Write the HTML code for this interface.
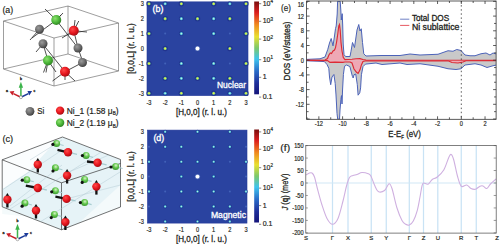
<!DOCTYPE html>
<html><head><meta charset="utf-8"><style>
html,body{margin:0;padding:0;background:#fff;width:500px;height:244px;overflow:hidden;}
svg{display:block;font-family:"Liberation Sans",sans-serif;}
</style></head><body><svg width="500" height="244" viewBox="0 0 500 244" font-family="Liberation Sans, sans-serif"><defs>
<radialGradient id="gR" cx="0.38" cy="0.35" r="0.7"><stop offset="0" stop-color="#ff4a4a"/><stop offset="0.55" stop-color="#e6161e"/><stop offset="1" stop-color="#a00c12"/></radialGradient>
<radialGradient id="gG" cx="0.38" cy="0.35" r="0.7"><stop offset="0" stop-color="#8fe070"/><stop offset="0.55" stop-color="#4db83a"/><stop offset="1" stop-color="#2d7d22"/></radialGradient>
<radialGradient id="gS" cx="0.38" cy="0.35" r="0.7"><stop offset="0" stop-color="#9a9a9a"/><stop offset="0.55" stop-color="#6c6c6c"/><stop offset="1" stop-color="#3a3a3a"/></radialGradient>
<linearGradient id="jet" x1="0" y1="1" x2="0" y2="0">
<stop offset="0" stop-color="#15157a"/><stop offset="0.12" stop-color="#1f2f9a"/><stop offset="0.25" stop-color="#2a6cc8"/><stop offset="0.38" stop-color="#3ec4ee"/><stop offset="0.5" stop-color="#7dc86a"/><stop offset="0.62" stop-color="#e8e030"/><stop offset="0.75" stop-color="#f08a1e"/><stop offset="0.88" stop-color="#dc1e1e"/><stop offset="1" stop-color="#7a0e0e"/>
</linearGradient>
<radialGradient id="gG2" cx="0.55" cy="0.35" r="0.75"><stop offset="0" stop-color="#d8f5c8"/><stop offset="0.45" stop-color="#62c64c"/><stop offset="1" stop-color="#338a2a"/></radialGradient>
</defs>
<text x="2.4" y="12.7" font-size="9" text-anchor="start" fill="#231f20"  textLength="10.8" lengthAdjust="spacingAndGlyphs" stroke="#231f20" stroke-width="0.18">(a)</text>
<line x1="3.5" y1="21" x2="54" y2="38" stroke="#5c5c5c" stroke-width="0.6" />
<line x1="54" y1="38" x2="54" y2="86" stroke="#5c5c5c" stroke-width="0.6" />
<line x1="54" y1="86" x2="3.5" y2="69" stroke="#5c5c5c" stroke-width="0.6" />
<line x1="3.5" y1="69" x2="3.5" y2="21" stroke="#5c5c5c" stroke-width="0.6" />
<line x1="68.0" y1="6" x2="118.5" y2="23" stroke="#5c5c5c" stroke-width="0.6" />
<line x1="118.5" y1="23" x2="118.5" y2="71" stroke="#5c5c5c" stroke-width="0.6" />
<line x1="118.5" y1="71" x2="68.0" y2="54" stroke="#5c5c5c" stroke-width="0.6" />
<line x1="68.0" y1="54" x2="68.0" y2="6" stroke="#5c5c5c" stroke-width="0.6" />
<line x1="3.5" y1="21" x2="68.0" y2="6" stroke="#5c5c5c" stroke-width="0.6" />
<line x1="54" y1="38" x2="118.5" y2="23" stroke="#5c5c5c" stroke-width="0.6" />
<line x1="54" y1="86" x2="118.5" y2="71" stroke="#5c5c5c" stroke-width="0.6" />
<line x1="3.5" y1="69" x2="68.0" y2="54" stroke="#5c5c5c" stroke-width="0.6" />
<line x1="45" y1="9" x2="56.25" y2="20" stroke="#222" stroke-width="0.8" />
<line x1="56.25" y1="20" x2="78" y2="48" stroke="#222" stroke-width="0.8" />
<line x1="32" y1="38" x2="56.25" y2="20" stroke="#222" stroke-width="0.8" />
<line x1="56.25" y1="20" x2="63" y2="13" stroke="#222" stroke-width="0.8" />
<line x1="56.25" y1="20" x2="61" y2="15" stroke="#222" stroke-width="0.8" />
<line x1="43" y1="43.75" x2="48" y2="60.5" stroke="#222" stroke-width="0.8" />
<line x1="48" y1="60.5" x2="56" y2="72" stroke="#222" stroke-width="0.8" />
<line x1="48" y1="60.5" x2="43.5" y2="72.5" stroke="#222" stroke-width="0.8" />
<line x1="48" y1="60.5" x2="46" y2="72.5" stroke="#222" stroke-width="0.8" />
<line x1="42.5" y1="43.75" x2="65" y2="71.75" stroke="#222" stroke-width="0.8" />
<line x1="65" y1="71.75" x2="52.5" y2="81" stroke="#222" stroke-width="0.8" />
<line x1="65" y1="71.75" x2="75" y2="81" stroke="#222" stroke-width="0.8" />
<line x1="65" y1="71.75" x2="65" y2="80" stroke="#222" stroke-width="0.8" />
<line x1="65" y1="71.75" x2="82.5" y2="62.5" stroke="#222" stroke-width="0.8" />
<line x1="73.75" y1="30.75" x2="75" y2="20" stroke="#222" stroke-width="0.8" />
<line x1="73.75" y1="30.75" x2="78.75" y2="21" stroke="#222" stroke-width="0.8" />
<line x1="73.75" y1="30.75" x2="87" y2="32" stroke="#222" stroke-width="0.8" />
<line x1="73.75" y1="30.75" x2="78" y2="48" stroke="#222" stroke-width="0.8" />
<line x1="78" y1="48" x2="83" y2="62.5" stroke="#222" stroke-width="0.8" />
<line x1="39.5" y1="29.25" x2="30" y2="40" stroke="#222" stroke-width="0.8" />
<line x1="43" y1="43.75" x2="36" y2="52" stroke="#222" stroke-width="0.8" />
<line x1="73.75" y1="30.75" x2="62" y2="38" stroke="#222" stroke-width="0.8" />
<circle cx="56.25" cy="20" r="5" fill="url(#gG)"/>
<circle cx="39.5" cy="29.25" r="4.5" fill="url(#gS)"/>
<circle cx="43" cy="43.75" r="4.5" fill="url(#gS)"/>
<circle cx="48" cy="60.5" r="5" fill="url(#gG)"/>
<circle cx="73.75" cy="30.75" r="5" fill="url(#gR)"/>
<circle cx="78" cy="48" r="4.5" fill="url(#gS)"/>
<circle cx="82.5" cy="62.5" r="4.5" fill="url(#gS)"/>
<circle cx="65" cy="71.75" r="5" fill="url(#gR)"/>
<line x1="20.9" y1="97.2" x2="20.9" y2="86.7" stroke="#3cb44b" stroke-width="1.5"/>
<polygon points="18.7,87.7 23.099999999999998,87.7 20.9,81.7" fill="#3cb44b"/>
<line x1="20.9" y1="97.2" x2="13.399999999999999" y2="93.60000000000001" stroke="#c81e28" stroke-width="1.5"/>
<polygon points="14.299999999999999,90.9 12.499999999999998,95.5 9.499999999999998,91.5" fill="#c81e28"/>
<line x1="20.9" y1="97.2" x2="28.4" y2="93.60000000000001" stroke="#1c3a98" stroke-width="1.5"/>
<polygon points="27.5,90.9 29.299999999999997,95.5 32.099999999999994,91.0" fill="#1c3a98"/>
<circle cx="20.9" cy="97.2" r="1.5" fill="#fff" stroke="#666" stroke-width="0.5"/>
<text x="20.0" y="79.9" font-size="3.6" text-anchor="start" fill="#231f20"  stroke="#231f20" stroke-width="0.3">b</text>
<text x="5.899999999999999" y="92.0" font-size="3.6" text-anchor="start" fill="#231f20"  stroke="#231f20" stroke-width="0.3">a</text>
<text x="33.5" y="92.4" font-size="3.6" text-anchor="start" fill="#231f20"  stroke="#231f20" stroke-width="0.3">c</text>
<circle cx="30" cy="111.3" r="4.4" fill="url(#gS)"/>
<text x="37.2" y="114.3" font-size="9" text-anchor="start" fill="#231f20"  textLength="7" lengthAdjust="spacingAndGlyphs" stroke="#231f20" stroke-width="0.2">Si</text>
<circle cx="60.1" cy="110.6" r="4.2" fill="url(#gR)"/>
<text x="66.8" y="113.9" font-size="9" text-anchor="start" fill="#231f20"  textLength="51.8" lengthAdjust="spacingAndGlyphs" stroke="#231f20" stroke-width="0.2">Ni_1 (1.58 μ<tspan font-size="5" dy="1.5">B</tspan><tspan dy="-1.5">)</tspan></text>
<circle cx="60.1" cy="122.8" r="4.2" fill="url(#gG)"/>
<text x="66.8" y="126.1" font-size="9" text-anchor="start" fill="#231f20"  textLength="51.8" lengthAdjust="spacingAndGlyphs" stroke="#231f20" stroke-width="0.2">Ni_2 (1.19 μ<tspan font-size="5" dy="1.5">B</tspan><tspan dy="-1.5">)</tspan></text>
<text x="2.4" y="142" font-size="9.3" text-anchor="start" fill="#231f20"  textLength="10.8" lengthAdjust="spacingAndGlyphs" stroke="#231f20" stroke-width="0.18">(c)</text>
<polygon points="2.20,159.80 62.50,137.00 120.50,159.50 120.50,207.00 61.50,229.80 2.20,206.80" fill="#e6f3f7"/>
<polygon points="2.20,159.80 62.50,137.00 56.00,141.00 28.00,172.00 2.20,189.00" fill="#fbfdfe"/>
<polygon points="120.50,185.00 120.50,207.00 80.00,222.00" fill="#f4fafb"/>
<polygon points="2.20,206.80 30.00,217.00 2.20,214.00" fill="#f4fafb"/>
<line x1="2.2" y1="159.8" x2="61.5" y2="182.8" stroke="#383838" stroke-width="0.7" />
<line x1="61.5" y1="182.8" x2="61.5" y2="229.8" stroke="#383838" stroke-width="0.7" />
<line x1="61.5" y1="229.8" x2="2.2" y2="206.8" stroke="#383838" stroke-width="0.7" />
<line x1="2.2" y1="206.8" x2="2.2" y2="159.8" stroke="#383838" stroke-width="0.7" />
<line x1="2.2" y1="159.8" x2="62.5" y2="137" stroke="#383838" stroke-width="0.7" />
<line x1="62.5" y1="137" x2="120.5" y2="159.5" stroke="#383838" stroke-width="0.7" />
<line x1="120.5" y1="159.5" x2="120.5" y2="207" stroke="#383838" stroke-width="0.7" />
<line x1="120.5" y1="207" x2="61.5" y2="229.8" stroke="#383838" stroke-width="0.7" />
<line x1="61.5" y1="182.8" x2="120.5" y2="163.5" stroke="#383838" stroke-width="0.7" />
<clipPath id="cclip"><polygon points="2.20,159.80 62.50,137.00 120.50,159.50 120.50,207.00 61.50,229.80 2.20,206.80"/></clipPath><g clip-path="url(#cclip)">
<line x1="2.2" y1="190" x2="62" y2="150" stroke="#a9c3cc" stroke-width="0.4" />
<line x1="2.2" y1="214" x2="120.5" y2="140" stroke="#a9c3cc" stroke-width="0.4" />
<line x1="10" y1="206" x2="62" y2="165" stroke="#a9c3cc" stroke-width="0.4" />
<line x1="40" y1="222" x2="120" y2="172" stroke="#a9c3cc" stroke-width="0.4" />
<line x1="62" y1="200" x2="120.5" y2="185" stroke="#a9c3cc" stroke-width="0.4" />
<line x1="30" y1="160" x2="62" y2="140" stroke="#a9c3cc" stroke-width="0.4" />
<line x1="62" y1="175" x2="120.5" y2="150" stroke="#a9c3cc" stroke-width="0.4" />
</g>
<line x1="59.1" y1="144.3" x2="63.6" y2="145.5" stroke="#a8ccd0" stroke-width="1.1" />
<circle cx="56.6" cy="143.5" r="3.5" fill="url(#gG2)"/>
<circle cx="52.9" cy="144.4" r="1.6" fill="#111"/>
<line x1="88.6" y1="156.20000000000002" x2="93.1" y2="157.4" stroke="#a8ccd0" stroke-width="1.1" />
<circle cx="86.1" cy="155.4" r="3.5" fill="url(#gG2)"/>
<circle cx="82.4" cy="155.6" r="1.6" fill="#111"/>
<line x1="118.1" y1="167.3" x2="122.6" y2="168.5" stroke="#a8ccd0" stroke-width="1.1" />
<circle cx="115.6" cy="166.5" r="3.5" fill="url(#gG2)"/>
<circle cx="111" cy="167" r="1.6" fill="#111"/>
<line x1="57.9" y1="168.60000000000002" x2="62.4" y2="169.8" stroke="#a8ccd0" stroke-width="1.1" />
<circle cx="55.4" cy="167.8" r="3.5" fill="url(#gG2)"/>
<circle cx="53" cy="171" r="1.6" fill="#111"/>
<line x1="29.3" y1="180.60000000000002" x2="33.8" y2="181.8" stroke="#a8ccd0" stroke-width="1.1" />
<circle cx="26.8" cy="179.8" r="3.5" fill="url(#gG2)"/>
<circle cx="22.3" cy="180.2" r="1.6" fill="#111"/>
<line x1="87.1" y1="180.20000000000002" x2="91.6" y2="181.4" stroke="#a8ccd0" stroke-width="1.1" />
<circle cx="84.6" cy="179.4" r="3.5" fill="url(#gG2)"/>
<circle cx="82.2" cy="182.4" r="1.6" fill="#111"/>
<line x1="57.9" y1="191.60000000000002" x2="62.4" y2="192.8" stroke="#a8ccd0" stroke-width="1.1" />
<circle cx="55.4" cy="190.8" r="3.5" fill="url(#gG2)"/>
<circle cx="51.7" cy="191.8" r="1.6" fill="#111"/>
<line x1="27.4" y1="203.8" x2="31.9" y2="205" stroke="#a8ccd0" stroke-width="1.1" />
<circle cx="24.9" cy="203" r="3.5" fill="url(#gG2)"/>
<circle cx="22.1" cy="206.2" r="1.6" fill="#111"/>
<line x1="56.9" y1="215.20000000000002" x2="61.4" y2="216.4" stroke="#a8ccd0" stroke-width="1.1" />
<circle cx="54.4" cy="214.4" r="3.5" fill="url(#gG2)"/>
<circle cx="51.25" cy="217.6" r="1.6" fill="#111"/>
<line x1="87.1" y1="203.4" x2="91.6" y2="204.6" stroke="#a8ccd0" stroke-width="1.1" />
<circle cx="84.6" cy="202.6" r="3.5" fill="url(#gG2)"/>
<circle cx="80.4" cy="202.6" r="1.6" fill="#111"/>
<line x1="71" y1="152.9" x2="77" y2="154.3" stroke="#a8ccd0" stroke-width="1.3" />
<line x1="57.5" y1="149.9" x2="68" y2="152.3" stroke="#111" stroke-width="2.3" />
<circle cx="68" cy="152.3" r="4.2" fill="url(#gR)"/>
<line x1="100.6" y1="163.4" x2="106.6" y2="164.8" stroke="#a8ccd0" stroke-width="1.3" />
<line x1="87" y1="161.5" x2="97.6" y2="162.8" stroke="#111" stroke-width="2.3" />
<circle cx="97.6" cy="162.8" r="4.2" fill="url(#gR)"/>
<line x1="40.8" y1="188.6" x2="46.8" y2="190" stroke="#a8ccd0" stroke-width="1.3" />
<line x1="25.8" y1="185.7" x2="37.8" y2="188" stroke="#111" stroke-width="2.3" />
<circle cx="37.8" cy="188" r="4.2" fill="url(#gR)"/>
<line x1="69.6" y1="199.5" x2="75.6" y2="200.9" stroke="#a8ccd0" stroke-width="1.3" />
<line x1="55.4" y1="196.7" x2="66.6" y2="198.9" stroke="#111" stroke-width="2.3" />
<circle cx="66.6" cy="198.9" r="4.2" fill="url(#gR)"/>
<line x1="7.4" y1="199.5" x2="7.4" y2="207.5" stroke="#111" stroke-width="2.3" />
<circle cx="7.4" cy="199.5" r="4.2" fill="url(#gR)"/>
<polygon points="5.7,195.7 9.1,195.7 7.4,192.9" fill="#111"/>
<line x1="37.8" y1="164.5" x2="37.8" y2="172.5" stroke="#111" stroke-width="2.3" />
<circle cx="37.8" cy="164.5" r="4.2" fill="url(#gR)"/>
<polygon points="36.099999999999994,160.7 39.5,160.7 37.8,157.9" fill="#111"/>
<line x1="67.1" y1="175.5" x2="67.1" y2="183.5" stroke="#111" stroke-width="2.3" />
<circle cx="67.1" cy="175.5" r="4.2" fill="url(#gR)"/>
<polygon points="65.39999999999999,171.7 68.8,171.7 67.1,168.9" fill="#111"/>
<line x1="96.4" y1="186.6" x2="96.4" y2="194.6" stroke="#111" stroke-width="2.3" />
<circle cx="96.4" cy="186.6" r="4.2" fill="url(#gR)"/>
<polygon points="94.7,182.79999999999998 98.10000000000001,182.79999999999998 96.4,180.0" fill="#111"/>
<line x1="36" y1="210.5" x2="36" y2="218.5" stroke="#111" stroke-width="2.3" />
<circle cx="36" cy="210.5" r="4.2" fill="url(#gR)"/>
<polygon points="34.3,206.7 37.7,206.7 36,203.9" fill="#111"/>
<line x1="65.4" y1="222" x2="65.4" y2="230" stroke="#111" stroke-width="2.3" />
<circle cx="65.4" cy="222" r="4.2" fill="url(#gR)"/>
<polygon points="63.7,218.2 67.10000000000001,218.2 65.4,215.4" fill="#111"/>
<line x1="17.5" y1="239.25" x2="17.5" y2="228.75" stroke="#3cb44b" stroke-width="1.5"/>
<polygon points="15.3,229.75 19.7,229.75 17.5,223.75" fill="#3cb44b"/>
<line x1="17.5" y1="239.25" x2="10.0" y2="235.65" stroke="#c81e28" stroke-width="1.5"/>
<polygon points="10.9,232.95 9.1,237.55 6.1,233.55" fill="#c81e28"/>
<line x1="17.5" y1="239.25" x2="25.0" y2="235.65" stroke="#1c3a98" stroke-width="1.5"/>
<polygon points="24.1,232.95 25.9,237.55 28.7,233.05" fill="#1c3a98"/>
<circle cx="17.5" cy="239.25" r="1.5" fill="#fff" stroke="#666" stroke-width="0.5"/>
<text x="16.6" y="221.95" font-size="3.6" text-anchor="start" fill="#231f20"  stroke="#231f20" stroke-width="0.3">b</text>
<text x="2.5" y="234.05" font-size="3.6" text-anchor="start" fill="#231f20"  stroke="#231f20" stroke-width="0.3">a</text>
<text x="30.1" y="234.45" font-size="3.6" text-anchor="start" fill="#231f20"  stroke="#231f20" stroke-width="0.3">c</text>
<rect x="147" y="1.85" width="101" height="93.75" fill="#2a43a0" stroke="#24399a" stroke-width="0.6"/>
<circle cx="149.00" cy="3.75" r="2.7" fill="#1f2e88" opacity="0.75"/>
<circle cx="149.00" cy="3.75" r="1.55" fill="#6acb8a"/>
<circle cx="149.00" cy="3.75" r="0.95" fill="#eef03e"/>
<circle cx="165.17" cy="3.75" r="2.40" fill="#1f2e88" opacity="0.7"/>
<circle cx="165.17" cy="3.75" r="1.55" fill="#3fb4d6"/>
<circle cx="165.17" cy="3.75" r="0.85" fill="#b8f2dc"/>
<circle cx="181.34" cy="3.75" r="2.7" fill="#1f2e88" opacity="0.75"/>
<circle cx="181.34" cy="3.75" r="1.55" fill="#6acb8a"/>
<circle cx="181.34" cy="3.75" r="0.95" fill="#eef03e"/>
<circle cx="213.68" cy="3.75" r="2.7" fill="#1f2e88" opacity="0.75"/>
<circle cx="213.68" cy="3.75" r="1.55" fill="#6acb8a"/>
<circle cx="213.68" cy="3.75" r="0.95" fill="#eef03e"/>
<circle cx="229.85" cy="3.75" r="2.40" fill="#1f2e88" opacity="0.7"/>
<circle cx="229.85" cy="3.75" r="1.55" fill="#3fb4d6"/>
<circle cx="229.85" cy="3.75" r="0.85" fill="#b8f2dc"/>
<circle cx="246.02" cy="3.75" r="2.7" fill="#1f2e88" opacity="0.75"/>
<circle cx="246.02" cy="3.75" r="1.55" fill="#6acb8a"/>
<circle cx="246.02" cy="3.75" r="0.95" fill="#eef03e"/>
<circle cx="165.17" cy="18.67" r="2.7" fill="#1f2e88" opacity="0.75"/>
<circle cx="165.17" cy="18.67" r="1.55" fill="#6acb8a"/>
<circle cx="165.17" cy="18.67" r="0.95" fill="#eef03e"/>
<circle cx="181.34" cy="18.67" r="2.40" fill="#1f2e88" opacity="0.7"/>
<circle cx="181.34" cy="18.67" r="1.55" fill="#3fb4d6"/>
<circle cx="181.34" cy="18.67" r="0.85" fill="#b8f2dc"/>
<circle cx="197.51" cy="18.67" r="2.7" fill="#1f2e88" opacity="0.75"/>
<circle cx="197.51" cy="18.67" r="1.55" fill="#6acb8a"/>
<circle cx="197.51" cy="18.67" r="0.95" fill="#eef03e"/>
<circle cx="213.68" cy="18.67" r="2.40" fill="#1f2e88" opacity="0.7"/>
<circle cx="213.68" cy="18.67" r="1.55" fill="#3fb4d6"/>
<circle cx="213.68" cy="18.67" r="0.85" fill="#b8f2dc"/>
<circle cx="229.85" cy="18.67" r="2.7" fill="#1f2e88" opacity="0.75"/>
<circle cx="229.85" cy="18.67" r="1.55" fill="#6acb8a"/>
<circle cx="229.85" cy="18.67" r="0.95" fill="#eef03e"/>
<circle cx="149.00" cy="33.59" r="2.7" fill="#1f2e88" opacity="0.75"/>
<circle cx="149.00" cy="33.59" r="1.55" fill="#6acb8a"/>
<circle cx="149.00" cy="33.59" r="0.95" fill="#eef03e"/>
<circle cx="165.17" cy="33.59" r="1.0" fill="#4262b8"/>
<circle cx="181.34" cy="33.59" r="2.40" fill="#1f2e88" opacity="0.7"/>
<circle cx="181.34" cy="33.59" r="1.55" fill="#3fb4d6"/>
<circle cx="181.34" cy="33.59" r="0.85" fill="#b8f2dc"/>
<circle cx="213.68" cy="33.59" r="2.40" fill="#1f2e88" opacity="0.7"/>
<circle cx="213.68" cy="33.59" r="1.55" fill="#3fb4d6"/>
<circle cx="213.68" cy="33.59" r="0.85" fill="#b8f2dc"/>
<circle cx="229.85" cy="33.59" r="1.0" fill="#4262b8"/>
<circle cx="246.02" cy="33.59" r="2.7" fill="#1f2e88" opacity="0.75"/>
<circle cx="246.02" cy="33.59" r="1.55" fill="#6acb8a"/>
<circle cx="246.02" cy="33.59" r="0.95" fill="#eef03e"/>
<circle cx="165.17" cy="48.51" r="2.7" fill="#1f2e88" opacity="0.75"/>
<circle cx="165.17" cy="48.51" r="1.55" fill="#6acb8a"/>
<circle cx="165.17" cy="48.51" r="0.95" fill="#eef03e"/>
<circle cx="197.51" cy="48.51" r="2.6" fill="#7f9ad0" opacity="0.6"/>
<circle cx="197.51" cy="48.51" r="1.9" fill="#ffffff"/>
<circle cx="229.85" cy="48.51" r="2.7" fill="#1f2e88" opacity="0.75"/>
<circle cx="229.85" cy="48.51" r="1.55" fill="#6acb8a"/>
<circle cx="229.85" cy="48.51" r="0.95" fill="#eef03e"/>
<circle cx="149.00" cy="63.43" r="2.7" fill="#1f2e88" opacity="0.75"/>
<circle cx="149.00" cy="63.43" r="1.55" fill="#6acb8a"/>
<circle cx="149.00" cy="63.43" r="0.95" fill="#eef03e"/>
<circle cx="165.17" cy="63.43" r="1.0" fill="#4262b8"/>
<circle cx="181.34" cy="63.43" r="2.40" fill="#1f2e88" opacity="0.7"/>
<circle cx="181.34" cy="63.43" r="1.55" fill="#3fb4d6"/>
<circle cx="181.34" cy="63.43" r="0.85" fill="#b8f2dc"/>
<circle cx="213.68" cy="63.43" r="2.40" fill="#1f2e88" opacity="0.7"/>
<circle cx="213.68" cy="63.43" r="1.55" fill="#3fb4d6"/>
<circle cx="213.68" cy="63.43" r="0.85" fill="#b8f2dc"/>
<circle cx="229.85" cy="63.43" r="1.0" fill="#4262b8"/>
<circle cx="246.02" cy="63.43" r="2.7" fill="#1f2e88" opacity="0.75"/>
<circle cx="246.02" cy="63.43" r="1.55" fill="#6acb8a"/>
<circle cx="246.02" cy="63.43" r="0.95" fill="#eef03e"/>
<circle cx="165.17" cy="78.35" r="2.7" fill="#1f2e88" opacity="0.75"/>
<circle cx="165.17" cy="78.35" r="1.55" fill="#6acb8a"/>
<circle cx="165.17" cy="78.35" r="0.95" fill="#eef03e"/>
<circle cx="181.34" cy="78.35" r="2.40" fill="#1f2e88" opacity="0.7"/>
<circle cx="181.34" cy="78.35" r="1.55" fill="#3fb4d6"/>
<circle cx="181.34" cy="78.35" r="0.85" fill="#b8f2dc"/>
<circle cx="197.51" cy="78.35" r="2.7" fill="#1f2e88" opacity="0.75"/>
<circle cx="197.51" cy="78.35" r="1.55" fill="#6acb8a"/>
<circle cx="197.51" cy="78.35" r="0.95" fill="#eef03e"/>
<circle cx="213.68" cy="78.35" r="2.40" fill="#1f2e88" opacity="0.7"/>
<circle cx="213.68" cy="78.35" r="1.55" fill="#3fb4d6"/>
<circle cx="213.68" cy="78.35" r="0.85" fill="#b8f2dc"/>
<circle cx="229.85" cy="78.35" r="2.7" fill="#1f2e88" opacity="0.75"/>
<circle cx="229.85" cy="78.35" r="1.55" fill="#6acb8a"/>
<circle cx="229.85" cy="78.35" r="0.95" fill="#eef03e"/>
<circle cx="149.00" cy="93.27" r="2.7" fill="#1f2e88" opacity="0.75"/>
<circle cx="149.00" cy="93.27" r="1.55" fill="#6acb8a"/>
<circle cx="149.00" cy="93.27" r="0.95" fill="#eef03e"/>
<circle cx="165.17" cy="93.27" r="2.40" fill="#1f2e88" opacity="0.7"/>
<circle cx="165.17" cy="93.27" r="1.55" fill="#3fb4d6"/>
<circle cx="165.17" cy="93.27" r="0.85" fill="#b8f2dc"/>
<circle cx="181.34" cy="93.27" r="2.7" fill="#1f2e88" opacity="0.75"/>
<circle cx="181.34" cy="93.27" r="1.55" fill="#6acb8a"/>
<circle cx="181.34" cy="93.27" r="0.95" fill="#eef03e"/>
<circle cx="213.68" cy="93.27" r="2.7" fill="#1f2e88" opacity="0.75"/>
<circle cx="213.68" cy="93.27" r="1.55" fill="#6acb8a"/>
<circle cx="213.68" cy="93.27" r="0.95" fill="#eef03e"/>
<circle cx="229.85" cy="93.27" r="2.40" fill="#1f2e88" opacity="0.7"/>
<circle cx="229.85" cy="93.27" r="1.55" fill="#3fb4d6"/>
<circle cx="229.85" cy="93.27" r="0.85" fill="#b8f2dc"/>
<circle cx="246.02" cy="93.27" r="2.7" fill="#1f2e88" opacity="0.75"/>
<circle cx="246.02" cy="93.27" r="1.55" fill="#6acb8a"/>
<circle cx="246.02" cy="93.27" r="0.95" fill="#eef03e"/>
<text x="152.6" y="11.6" font-size="8.9" text-anchor="start" fill="#fff"  stroke="#fff" stroke-width="0.35">(b)</text>
<text x="217" y="88.3" font-size="8.6" text-anchor="start" fill="#fff"  textLength="29.1" lengthAdjust="spacingAndGlyphs" stroke="#fff" stroke-width="0.3">Nuclear</text>
<rect x="147.5" y="130.1" width="99.5" height="93" fill="#2a43a0" stroke="#24399a" stroke-width="0.6"/>
<circle cx="165.17" cy="131.75" r="1.92" fill="#1f2e88" opacity="0.7"/>
<circle cx="165.17" cy="131.75" r="1.24" fill="#3fb4d6"/>
<circle cx="165.17" cy="131.75" r="0.68" fill="#b8f2dc"/>
<circle cx="197.51" cy="131.75" r="1.92" fill="#1f2e88" opacity="0.7"/>
<circle cx="197.51" cy="131.75" r="1.24" fill="#3fb4d6"/>
<circle cx="197.51" cy="131.75" r="0.68" fill="#b8f2dc"/>
<circle cx="229.85" cy="131.75" r="1.92" fill="#1f2e88" opacity="0.7"/>
<circle cx="229.85" cy="131.75" r="1.24" fill="#3fb4d6"/>
<circle cx="229.85" cy="131.75" r="0.68" fill="#b8f2dc"/>
<circle cx="149.00" cy="146.70" r="1.0" fill="#4262b8"/>
<circle cx="165.17" cy="146.70" r="1.92" fill="#1f2e88" opacity="0.7"/>
<circle cx="165.17" cy="146.70" r="1.24" fill="#3fb4d6"/>
<circle cx="165.17" cy="146.70" r="0.68" fill="#b8f2dc"/>
<circle cx="181.34" cy="146.70" r="1.92" fill="#1f2e88" opacity="0.7"/>
<circle cx="181.34" cy="146.70" r="1.24" fill="#3fb4d6"/>
<circle cx="181.34" cy="146.70" r="0.68" fill="#b8f2dc"/>
<circle cx="213.68" cy="146.70" r="1.92" fill="#1f2e88" opacity="0.7"/>
<circle cx="213.68" cy="146.70" r="1.24" fill="#3fb4d6"/>
<circle cx="213.68" cy="146.70" r="0.68" fill="#b8f2dc"/>
<circle cx="229.85" cy="146.70" r="1.92" fill="#1f2e88" opacity="0.7"/>
<circle cx="229.85" cy="146.70" r="1.24" fill="#3fb4d6"/>
<circle cx="229.85" cy="146.70" r="0.68" fill="#b8f2dc"/>
<circle cx="246.02" cy="146.70" r="1.0" fill="#4262b8"/>
<circle cx="149.00" cy="161.65" r="1.92" fill="#1f2e88" opacity="0.7"/>
<circle cx="149.00" cy="161.65" r="1.24" fill="#3fb4d6"/>
<circle cx="149.00" cy="161.65" r="0.68" fill="#b8f2dc"/>
<circle cx="165.17" cy="161.65" r="1.0" fill="#4262b8"/>
<circle cx="181.34" cy="161.65" r="1.92" fill="#1f2e88" opacity="0.7"/>
<circle cx="181.34" cy="161.65" r="1.24" fill="#3fb4d6"/>
<circle cx="181.34" cy="161.65" r="0.68" fill="#b8f2dc"/>
<circle cx="197.51" cy="161.65" r="1.92" fill="#1f2e88" opacity="0.7"/>
<circle cx="197.51" cy="161.65" r="1.24" fill="#3fb4d6"/>
<circle cx="197.51" cy="161.65" r="0.68" fill="#b8f2dc"/>
<circle cx="213.68" cy="161.65" r="1.92" fill="#1f2e88" opacity="0.7"/>
<circle cx="213.68" cy="161.65" r="1.24" fill="#3fb4d6"/>
<circle cx="213.68" cy="161.65" r="0.68" fill="#b8f2dc"/>
<circle cx="229.85" cy="161.65" r="1.0" fill="#4262b8"/>
<circle cx="246.02" cy="161.65" r="1.92" fill="#1f2e88" opacity="0.7"/>
<circle cx="246.02" cy="161.65" r="1.24" fill="#3fb4d6"/>
<circle cx="246.02" cy="161.65" r="0.68" fill="#b8f2dc"/>
<circle cx="149.00" cy="176.60" r="1.0" fill="#4262b8"/>
<circle cx="181.34" cy="176.60" r="1.92" fill="#1f2e88" opacity="0.7"/>
<circle cx="181.34" cy="176.60" r="1.24" fill="#3fb4d6"/>
<circle cx="181.34" cy="176.60" r="0.68" fill="#b8f2dc"/>
<circle cx="197.51" cy="176.60" r="2.6" fill="#7f9ad0" opacity="0.6"/>
<circle cx="197.51" cy="176.60" r="1.9" fill="#ffffff"/>
<circle cx="213.68" cy="176.60" r="1.92" fill="#1f2e88" opacity="0.7"/>
<circle cx="213.68" cy="176.60" r="1.24" fill="#3fb4d6"/>
<circle cx="213.68" cy="176.60" r="0.68" fill="#b8f2dc"/>
<circle cx="246.02" cy="176.60" r="1.0" fill="#4262b8"/>
<circle cx="149.00" cy="191.55" r="1.92" fill="#1f2e88" opacity="0.7"/>
<circle cx="149.00" cy="191.55" r="1.24" fill="#3fb4d6"/>
<circle cx="149.00" cy="191.55" r="0.68" fill="#b8f2dc"/>
<circle cx="165.17" cy="191.55" r="1.0" fill="#4262b8"/>
<circle cx="181.34" cy="191.55" r="1.92" fill="#1f2e88" opacity="0.7"/>
<circle cx="181.34" cy="191.55" r="1.24" fill="#3fb4d6"/>
<circle cx="181.34" cy="191.55" r="0.68" fill="#b8f2dc"/>
<circle cx="197.51" cy="191.55" r="1.92" fill="#1f2e88" opacity="0.7"/>
<circle cx="197.51" cy="191.55" r="1.24" fill="#3fb4d6"/>
<circle cx="197.51" cy="191.55" r="0.68" fill="#b8f2dc"/>
<circle cx="213.68" cy="191.55" r="1.92" fill="#1f2e88" opacity="0.7"/>
<circle cx="213.68" cy="191.55" r="1.24" fill="#3fb4d6"/>
<circle cx="213.68" cy="191.55" r="0.68" fill="#b8f2dc"/>
<circle cx="229.85" cy="191.55" r="1.0" fill="#4262b8"/>
<circle cx="246.02" cy="191.55" r="1.92" fill="#1f2e88" opacity="0.7"/>
<circle cx="246.02" cy="191.55" r="1.24" fill="#3fb4d6"/>
<circle cx="246.02" cy="191.55" r="0.68" fill="#b8f2dc"/>
<circle cx="149.00" cy="206.50" r="1.0" fill="#4262b8"/>
<circle cx="165.17" cy="206.50" r="1.92" fill="#1f2e88" opacity="0.7"/>
<circle cx="165.17" cy="206.50" r="1.24" fill="#3fb4d6"/>
<circle cx="165.17" cy="206.50" r="0.68" fill="#b8f2dc"/>
<circle cx="181.34" cy="206.50" r="1.92" fill="#1f2e88" opacity="0.7"/>
<circle cx="181.34" cy="206.50" r="1.24" fill="#3fb4d6"/>
<circle cx="181.34" cy="206.50" r="0.68" fill="#b8f2dc"/>
<circle cx="213.68" cy="206.50" r="1.92" fill="#1f2e88" opacity="0.7"/>
<circle cx="213.68" cy="206.50" r="1.24" fill="#3fb4d6"/>
<circle cx="213.68" cy="206.50" r="0.68" fill="#b8f2dc"/>
<circle cx="229.85" cy="206.50" r="1.92" fill="#1f2e88" opacity="0.7"/>
<circle cx="229.85" cy="206.50" r="1.24" fill="#3fb4d6"/>
<circle cx="229.85" cy="206.50" r="0.68" fill="#b8f2dc"/>
<circle cx="246.02" cy="206.50" r="1.0" fill="#4262b8"/>
<circle cx="165.17" cy="221.45" r="1.92" fill="#1f2e88" opacity="0.7"/>
<circle cx="165.17" cy="221.45" r="1.24" fill="#3fb4d6"/>
<circle cx="165.17" cy="221.45" r="0.68" fill="#b8f2dc"/>
<circle cx="197.51" cy="221.45" r="1.92" fill="#1f2e88" opacity="0.7"/>
<circle cx="197.51" cy="221.45" r="1.24" fill="#3fb4d6"/>
<circle cx="197.51" cy="221.45" r="0.68" fill="#b8f2dc"/>
<circle cx="229.85" cy="221.45" r="1.92" fill="#1f2e88" opacity="0.7"/>
<circle cx="229.85" cy="221.45" r="1.24" fill="#3fb4d6"/>
<circle cx="229.85" cy="221.45" r="0.68" fill="#b8f2dc"/>
<text x="153.4" y="140.6" font-size="8.9" text-anchor="start" fill="#fff"  stroke="#fff" stroke-width="0.35">(d)</text>
<text x="210.9" y="217.6" font-size="8.3" text-anchor="start" fill="#fff"  textLength="35.1" lengthAdjust="spacingAndGlyphs" stroke="#fff" stroke-width="0.3">Magnetic</text>
<text x="149.0" y="104.5" font-size="6.8" text-anchor="middle" fill="#231f20"  textLength="5.02" lengthAdjust="spacingAndGlyphs" stroke="#231f20" stroke-width="0.18">-3</text>
<text x="143.8" y="95.77" font-size="6.8" text-anchor="end" fill="#231f20"  textLength="5.02" lengthAdjust="spacingAndGlyphs" stroke="#231f20" stroke-width="0.18">-3</text>
<text x="149.0" y="231.9" font-size="6.8" text-anchor="middle" fill="#231f20"  textLength="5.02" lengthAdjust="spacingAndGlyphs" stroke="#231f20" stroke-width="0.18">-3</text>
<text x="143.8" y="223.95" font-size="6.8" text-anchor="end" fill="#231f20"  textLength="5.02" lengthAdjust="spacingAndGlyphs" stroke="#231f20" stroke-width="0.18">-3</text>
<text x="165.17000000000002" y="104.5" font-size="6.8" text-anchor="middle" fill="#231f20"  textLength="5.02" lengthAdjust="spacingAndGlyphs" stroke="#231f20" stroke-width="0.18">-2</text>
<text x="143.8" y="80.85" font-size="6.8" text-anchor="end" fill="#231f20"  textLength="5.02" lengthAdjust="spacingAndGlyphs" stroke="#231f20" stroke-width="0.18">-2</text>
<text x="165.17000000000002" y="231.9" font-size="6.8" text-anchor="middle" fill="#231f20"  textLength="5.02" lengthAdjust="spacingAndGlyphs" stroke="#231f20" stroke-width="0.18">-2</text>
<text x="143.8" y="209.0" font-size="6.8" text-anchor="end" fill="#231f20"  textLength="5.02" lengthAdjust="spacingAndGlyphs" stroke="#231f20" stroke-width="0.18">-2</text>
<text x="181.34" y="104.5" font-size="6.8" text-anchor="middle" fill="#231f20"  textLength="5.02" lengthAdjust="spacingAndGlyphs" stroke="#231f20" stroke-width="0.18">-1</text>
<text x="143.8" y="65.93" font-size="6.8" text-anchor="end" fill="#231f20"  textLength="5.02" lengthAdjust="spacingAndGlyphs" stroke="#231f20" stroke-width="0.18">-1</text>
<text x="181.34" y="231.9" font-size="6.8" text-anchor="middle" fill="#231f20"  textLength="5.02" lengthAdjust="spacingAndGlyphs" stroke="#231f20" stroke-width="0.18">-1</text>
<text x="143.8" y="194.05" font-size="6.8" text-anchor="end" fill="#231f20"  textLength="5.02" lengthAdjust="spacingAndGlyphs" stroke="#231f20" stroke-width="0.18">-1</text>
<text x="197.51" y="104.5" font-size="6.8" text-anchor="middle" fill="#231f20"  textLength="3.14" lengthAdjust="spacingAndGlyphs" stroke="#231f20" stroke-width="0.18">0</text>
<text x="143.8" y="51.01" font-size="6.8" text-anchor="end" fill="#231f20"  textLength="3.14" lengthAdjust="spacingAndGlyphs" stroke="#231f20" stroke-width="0.18">0</text>
<text x="197.51" y="231.9" font-size="6.8" text-anchor="middle" fill="#231f20"  textLength="3.14" lengthAdjust="spacingAndGlyphs" stroke="#231f20" stroke-width="0.18">0</text>
<text x="143.8" y="179.1" font-size="6.8" text-anchor="end" fill="#231f20"  textLength="3.14" lengthAdjust="spacingAndGlyphs" stroke="#231f20" stroke-width="0.18">0</text>
<text x="213.68" y="104.5" font-size="6.8" text-anchor="middle" fill="#231f20"  textLength="3.14" lengthAdjust="spacingAndGlyphs" stroke="#231f20" stroke-width="0.18">1</text>
<text x="143.8" y="36.09" font-size="6.8" text-anchor="end" fill="#231f20"  textLength="3.14" lengthAdjust="spacingAndGlyphs" stroke="#231f20" stroke-width="0.18">1</text>
<text x="213.68" y="231.9" font-size="6.8" text-anchor="middle" fill="#231f20"  textLength="3.14" lengthAdjust="spacingAndGlyphs" stroke="#231f20" stroke-width="0.18">1</text>
<text x="143.8" y="164.15" font-size="6.8" text-anchor="end" fill="#231f20"  textLength="3.14" lengthAdjust="spacingAndGlyphs" stroke="#231f20" stroke-width="0.18">1</text>
<text x="229.85000000000002" y="104.5" font-size="6.8" text-anchor="middle" fill="#231f20"  textLength="3.14" lengthAdjust="spacingAndGlyphs" stroke="#231f20" stroke-width="0.18">2</text>
<text x="143.8" y="21.17" font-size="6.8" text-anchor="end" fill="#231f20"  textLength="3.14" lengthAdjust="spacingAndGlyphs" stroke="#231f20" stroke-width="0.18">2</text>
<text x="229.85000000000002" y="231.9" font-size="6.8" text-anchor="middle" fill="#231f20"  textLength="3.14" lengthAdjust="spacingAndGlyphs" stroke="#231f20" stroke-width="0.18">2</text>
<text x="143.8" y="149.2" font-size="6.8" text-anchor="end" fill="#231f20"  textLength="3.14" lengthAdjust="spacingAndGlyphs" stroke="#231f20" stroke-width="0.18">2</text>
<text x="246.02" y="104.5" font-size="6.8" text-anchor="middle" fill="#231f20"  textLength="3.14" lengthAdjust="spacingAndGlyphs" stroke="#231f20" stroke-width="0.18">3</text>
<text x="143.8" y="6.25" font-size="6.8" text-anchor="end" fill="#231f20"  textLength="3.14" lengthAdjust="spacingAndGlyphs" stroke="#231f20" stroke-width="0.18">3</text>
<text x="246.02" y="231.9" font-size="6.8" text-anchor="middle" fill="#231f20"  textLength="3.14" lengthAdjust="spacingAndGlyphs" stroke="#231f20" stroke-width="0.18">3</text>
<text x="143.8" y="134.25" font-size="6.8" text-anchor="end" fill="#231f20"  textLength="3.14" lengthAdjust="spacingAndGlyphs" stroke="#231f20" stroke-width="0.18">3</text>
<text x="201.5" y="115" font-size="9" text-anchor="middle" fill="#231f20"  textLength="51" lengthAdjust="spacingAndGlyphs" stroke="#231f20" stroke-width="0.3">[H,0,0] (r. l. u.)</text>
<text x="201.5" y="242.3" font-size="9" text-anchor="middle" fill="#231f20"  textLength="51" lengthAdjust="spacingAndGlyphs" stroke="#231f20" stroke-width="0.3">[H,0,0] (r. l. u.)</text>
<text transform="translate(133.5,48.5) rotate(-90)" font-size="9" text-anchor="middle" fill="#231f20" stroke="#231f20" stroke-width="0.3" textLength="50.6" lengthAdjust="spacingAndGlyphs">[0,0,L] (r. l. u.)</text>
<text transform="translate(133.5,176.5) rotate(-90)" font-size="9" text-anchor="middle" fill="#231f20" stroke="#231f20" stroke-width="0.3" textLength="50.6" lengthAdjust="spacingAndGlyphs">[0,0,L] (r. l. u.)</text>
<rect x="254.2" y="1.5" width="4.8" height="92.8" fill="url(#jet)"/>
<text x="262.7" y="5.7" font-size="7" text-anchor="start" fill="#231f20"  stroke="#231f20" stroke-width="0.18">10<tspan font-size="4.5" dy="-2.5">4</tspan></text>
<line x1="259.0" y1="3.7" x2="261.2" y2="3.7" stroke="#333" stroke-width="0.6" />
<text x="262.7" y="23.3" font-size="7" text-anchor="start" fill="#231f20"  stroke="#231f20" stroke-width="0.18">10<tspan font-size="4.5" dy="-2.5">3</tspan></text>
<line x1="259.0" y1="21.3" x2="261.2" y2="21.3" stroke="#333" stroke-width="0.6" />
<text x="262.7" y="41.1" font-size="7" text-anchor="start" fill="#231f20"  stroke="#231f20" stroke-width="0.18">10<tspan font-size="4.5" dy="-2.5">2</tspan></text>
<line x1="259.0" y1="39.1" x2="261.2" y2="39.1" stroke="#333" stroke-width="0.6" />
<text x="262.7" y="61.7" font-size="7" text-anchor="start" fill="#231f20"  stroke="#231f20" stroke-width="0.18">10<tspan font-size="4.5" dy="-2.5">1</tspan></text>
<line x1="259.0" y1="59.7" x2="261.2" y2="59.7" stroke="#333" stroke-width="0.6" />
<text x="262.7" y="79.3" font-size="7" text-anchor="start" fill="#231f20"  stroke="#231f20" stroke-width="0.18">1</text>
<line x1="259.0" y1="77.3" x2="261.2" y2="77.3" stroke="#333" stroke-width="0.6" />
<text x="262.7" y="99.1" font-size="7" text-anchor="start" fill="#231f20"  stroke="#231f20" stroke-width="0.18">0.1</text>
<line x1="259.0" y1="97.1" x2="261.2" y2="97.1" stroke="#333" stroke-width="0.6" />
<rect x="254.2" y="129.5" width="4.8" height="93.0" fill="url(#jet)"/>
<text x="262.7" y="133.9" font-size="7" text-anchor="start" fill="#231f20"  stroke="#231f20" stroke-width="0.18">10<tspan font-size="4.5" dy="-2.5">4</tspan></text>
<line x1="259.0" y1="131.9" x2="261.2" y2="131.9" stroke="#333" stroke-width="0.6" />
<text x="262.7" y="151.3" font-size="7" text-anchor="start" fill="#231f20"  stroke="#231f20" stroke-width="0.18">10<tspan font-size="4.5" dy="-2.5">3</tspan></text>
<line x1="259.0" y1="149.3" x2="261.2" y2="149.3" stroke="#333" stroke-width="0.6" />
<text x="262.7" y="169.7" font-size="7" text-anchor="start" fill="#231f20"  stroke="#231f20" stroke-width="0.18">10<tspan font-size="4.5" dy="-2.5">2</tspan></text>
<line x1="259.0" y1="167.7" x2="261.2" y2="167.7" stroke="#333" stroke-width="0.6" />
<text x="262.7" y="190.1" font-size="7" text-anchor="start" fill="#231f20"  stroke="#231f20" stroke-width="0.18">10<tspan font-size="4.5" dy="-2.5">1</tspan></text>
<line x1="259.0" y1="188.1" x2="261.2" y2="188.1" stroke="#333" stroke-width="0.6" />
<text x="262.7" y="207.6" font-size="7" text-anchor="start" fill="#231f20"  stroke="#231f20" stroke-width="0.18">1</text>
<line x1="259.0" y1="205.6" x2="261.2" y2="205.6" stroke="#333" stroke-width="0.6" />
<text x="262.7" y="226.3" font-size="7" text-anchor="start" fill="#231f20"  stroke="#231f20" stroke-width="0.18">0.1</text>
<line x1="259.0" y1="224.3" x2="261.2" y2="224.3" stroke="#333" stroke-width="0.6" />
<clipPath id="eclip"><rect x="306.6" y="1.0" width="189.5" height="118.3"/></clipPath>
<g clip-path="url(#eclip)">
<path d="M306.60,60.2 L306.60,59.40 L315.00,59.00 L320.00,58.80 L325.00,57.00 L327.80,49.30 L329.50,43.00 L331.20,38.50 L333.00,45.90 L334.50,36.00 L335.50,28.60 L336.20,26.00 L337.20,14.00 L337.60,1.30 L340.20,1.30 L340.80,10.00 L341.30,20.00 L342.20,13.70 L342.70,25.00 L343.20,44.00 L344.00,54.50 L345.50,56.50 L350.00,56.50 L351.00,51.25 L352.50,42.50 L354.50,47.50 L357.00,30.00 L358.75,24.50 L360.00,31.00 L361.25,28.75 L362.50,42.50 L363.75,53.75 L366.00,56.00 L381.00,55.50 L400.00,55.50 L410.00,54.00 L420.00,55.00 L438.00,54.25 L448.00,50.75 L453.00,51.25 L456.75,49.50 L461.00,50.50 L465.00,55.00 L470.00,55.75 L475.00,55.75 L481.00,53.75 L486.00,53.00 L490.00,55.00 L493.00,53.00 L496.50,54.00 L496.50,60.2 Z" fill="#c9c9c9"/>
<path d="M306.60,60.2 L306.60,60.80 L318.00,61.20 L324.40,61.60 L326.90,64.35 L328.80,68.20 L329.50,77.00 L330.70,84.70 L332.00,77.00 L333.90,74.50 L335.20,83.40 L336.00,95.00 L337.00,113.40 L337.70,119.20 L339.50,119.20 L340.00,110.00 L340.90,99.40 L341.50,95.60 L342.00,104.00 L342.60,89.00 L343.40,74.50 L344.50,66.30 L346.60,65.00 L349.90,66.60 L352.40,76.40 L353.20,78.00 L354.00,74.75 L355.70,74.00 L357.30,84.60 L358.10,95.20 L359.75,92.80 L360.60,87.90 L361.40,74.75 L363.00,66.60 L365.50,64.10 L376.00,63.00 L382.00,64.50 L400.00,63.00 L407.00,64.50 L420.00,63.75 L438.00,66.25 L448.00,68.75 L456.00,69.50 L461.00,68.75 L465.00,65.00 L475.00,63.75 L481.00,65.00 L487.00,67.50 L493.00,65.75 L496.50,65.00 L496.50,60.2 Z" fill="#c9c9c9"/>
<path d="M306.60,60.2 L306.60,60.20 L325.00,60.00 L327.50,58.50 L328.90,55.00 L330.30,53.00 L331.50,53.50 L333.00,51.00 L334.50,50.00 L335.50,47.60 L336.60,42.00 L337.90,33.00 L338.80,26.00 L339.50,24.50 L340.20,30.00 L341.00,42.40 L342.00,51.00 L343.30,57.50 L345.00,59.60 L352.00,59.30 L356.00,58.75 L360.00,58.60 L363.00,59.50 L366.00,60.00 L496.50,60.20 L496.50,60.2 Z" fill="#eea8b5"/>
<path d="M306.60,60.2 L306.60,60.40 L327.50,60.60 L330.00,62.40 L335.00,62.20 L342.80,62.40 L345.00,62.00 L350.00,62.00 L352.00,63.00 L354.00,69.00 L356.50,72.30 L358.10,73.50 L360.00,69.80 L361.40,64.90 L363.00,61.50 L366.00,60.80 L448.00,60.80 L452.00,62.50 L458.00,63.00 L463.00,62.00 L466.00,60.80 L496.50,60.60 L496.50,60.2 Z" fill="#eea8b5"/>
<polyline points="306.60,59.40 315.00,59.00 320.00,58.80 325.00,57.00 327.80,49.30 329.50,43.00 331.20,38.50 333.00,45.90 334.50,36.00 335.50,28.60 336.20,26.00 337.20,14.00 337.60,1.30 340.20,1.30 340.80,10.00 341.30,20.00 342.20,13.70 342.70,25.00 343.20,44.00 344.00,54.50 345.50,56.50 350.00,56.50 351.00,51.25 352.50,42.50 354.50,47.50 357.00,30.00 358.75,24.50 360.00,31.00 361.25,28.75 362.50,42.50 363.75,53.75 366.00,56.00 381.00,55.50 400.00,55.50 410.00,54.00 420.00,55.00 438.00,54.25 448.00,50.75 453.00,51.25 456.75,49.50 461.00,50.50 465.00,55.00 470.00,55.75 475.00,55.75 481.00,53.75 486.00,53.00 490.00,55.00 493.00,53.00 496.50,54.00" fill="none" stroke="#4b62b8" stroke-width="1"/>
<polyline points="306.60,60.80 318.00,61.20 324.40,61.60 326.90,64.35 328.80,68.20 329.50,77.00 330.70,84.70 332.00,77.00 333.90,74.50 335.20,83.40 336.00,95.00 337.00,113.40 337.70,119.20 339.50,119.20 340.00,110.00 340.90,99.40 341.50,95.60 342.00,104.00 342.60,89.00 343.40,74.50 344.50,66.30 346.60,65.00 349.90,66.60 352.40,76.40 353.20,78.00 354.00,74.75 355.70,74.00 357.30,84.60 358.10,95.20 359.75,92.80 360.60,87.90 361.40,74.75 363.00,66.60 365.50,64.10 376.00,63.00 382.00,64.50 400.00,63.00 407.00,64.50 420.00,63.75 438.00,66.25 448.00,68.75 456.00,69.50 461.00,68.75 465.00,65.00 475.00,63.75 481.00,65.00 487.00,67.50 493.00,65.75 496.50,65.00" fill="none" stroke="#4b62b8" stroke-width="1"/>
<polyline points="306.60,60.20 325.00,60.00 327.50,58.50 328.90,55.00 330.30,53.00 331.50,53.50 333.00,51.00 334.50,50.00 335.50,47.60 336.60,42.00 337.90,33.00 338.80,26.00 339.50,24.50 340.20,30.00 341.00,42.40 342.00,51.00 343.30,57.50 345.00,59.60 352.00,59.30 356.00,58.75 360.00,58.60 363.00,59.50 366.00,60.00 496.50,60.20" fill="none" stroke="#dc2a34" stroke-width="1.15"/>
<polyline points="306.60,60.40 327.50,60.60 330.00,62.40 335.00,62.20 342.80,62.40 345.00,62.00 350.00,62.00 352.00,63.00 354.00,69.00 356.50,72.30 358.10,73.50 360.00,69.80 361.40,64.90 363.00,61.50 366.00,60.80 448.00,60.80 452.00,62.50 458.00,63.00 463.00,62.00 466.00,60.80 496.50,60.60" fill="none" stroke="#dc2a34" stroke-width="1.15"/>
</g>
<line x1="461.3" y1="1.0" x2="461.3" y2="119.3" stroke="#333" stroke-width="0.8" stroke-dasharray="1.5,2.6"/>
<rect x="306.6" y="1.0" width="189.5" height="118.3" fill="none" stroke="#333" stroke-width="0.8"/>
<line x1="306.99" y1="119.3" x2="306.99" y2="117.3" stroke="#333" stroke-width="0.8" />
<line x1="306.99" y1="1.0" x2="306.99" y2="3.0" stroke="#333" stroke-width="0.8" />
<line x1="318.86" y1="119.3" x2="318.86" y2="116.3" stroke="#333" stroke-width="0.8" />
<line x1="318.86" y1="1.0" x2="318.86" y2="4.0" stroke="#333" stroke-width="0.8" />
<text x="318.86" y="125.5" font-size="6.8" text-anchor="middle" fill="#231f20"  textLength="8.16" lengthAdjust="spacingAndGlyphs" stroke="#231f20" stroke-width="0.18">-12</text>
<line x1="330.73" y1="119.3" x2="330.73" y2="117.3" stroke="#333" stroke-width="0.8" />
<line x1="330.73" y1="1.0" x2="330.73" y2="3.0" stroke="#333" stroke-width="0.8" />
<line x1="342.6" y1="119.3" x2="342.6" y2="116.3" stroke="#333" stroke-width="0.8" />
<line x1="342.6" y1="1.0" x2="342.6" y2="4.0" stroke="#333" stroke-width="0.8" />
<text x="342.6" y="125.5" font-size="6.8" text-anchor="middle" fill="#231f20"  textLength="8.16" lengthAdjust="spacingAndGlyphs" stroke="#231f20" stroke-width="0.18">-10</text>
<line x1="354.47" y1="119.3" x2="354.47" y2="117.3" stroke="#333" stroke-width="0.8" />
<line x1="354.47" y1="1.0" x2="354.47" y2="3.0" stroke="#333" stroke-width="0.8" />
<line x1="366.34000000000003" y1="119.3" x2="366.34000000000003" y2="116.3" stroke="#333" stroke-width="0.8" />
<line x1="366.34000000000003" y1="1.0" x2="366.34000000000003" y2="4.0" stroke="#333" stroke-width="0.8" />
<text x="366.34000000000003" y="125.5" font-size="6.8" text-anchor="middle" fill="#231f20"  textLength="5.02" lengthAdjust="spacingAndGlyphs" stroke="#231f20" stroke-width="0.18">-8</text>
<line x1="378.21000000000004" y1="119.3" x2="378.21000000000004" y2="117.3" stroke="#333" stroke-width="0.8" />
<line x1="378.21000000000004" y1="1.0" x2="378.21000000000004" y2="3.0" stroke="#333" stroke-width="0.8" />
<line x1="390.08000000000004" y1="119.3" x2="390.08000000000004" y2="116.3" stroke="#333" stroke-width="0.8" />
<line x1="390.08000000000004" y1="1.0" x2="390.08000000000004" y2="4.0" stroke="#333" stroke-width="0.8" />
<text x="390.08000000000004" y="125.5" font-size="6.8" text-anchor="middle" fill="#231f20"  textLength="5.02" lengthAdjust="spacingAndGlyphs" stroke="#231f20" stroke-width="0.18">-6</text>
<line x1="401.95000000000005" y1="119.3" x2="401.95000000000005" y2="117.3" stroke="#333" stroke-width="0.8" />
<line x1="401.95000000000005" y1="1.0" x2="401.95000000000005" y2="3.0" stroke="#333" stroke-width="0.8" />
<line x1="413.82" y1="119.3" x2="413.82" y2="116.3" stroke="#333" stroke-width="0.8" />
<line x1="413.82" y1="1.0" x2="413.82" y2="4.0" stroke="#333" stroke-width="0.8" />
<text x="413.82" y="125.5" font-size="6.8" text-anchor="middle" fill="#231f20"  textLength="5.02" lengthAdjust="spacingAndGlyphs" stroke="#231f20" stroke-width="0.18">-4</text>
<line x1="425.69" y1="119.3" x2="425.69" y2="117.3" stroke="#333" stroke-width="0.8" />
<line x1="425.69" y1="1.0" x2="425.69" y2="3.0" stroke="#333" stroke-width="0.8" />
<line x1="437.56" y1="119.3" x2="437.56" y2="116.3" stroke="#333" stroke-width="0.8" />
<line x1="437.56" y1="1.0" x2="437.56" y2="4.0" stroke="#333" stroke-width="0.8" />
<text x="437.56" y="125.5" font-size="6.8" text-anchor="middle" fill="#231f20"  textLength="5.02" lengthAdjust="spacingAndGlyphs" stroke="#231f20" stroke-width="0.18">-2</text>
<line x1="449.43" y1="119.3" x2="449.43" y2="117.3" stroke="#333" stroke-width="0.8" />
<line x1="449.43" y1="1.0" x2="449.43" y2="3.0" stroke="#333" stroke-width="0.8" />
<line x1="461.3" y1="119.3" x2="461.3" y2="116.3" stroke="#333" stroke-width="0.8" />
<line x1="461.3" y1="1.0" x2="461.3" y2="4.0" stroke="#333" stroke-width="0.8" />
<text x="461.3" y="125.5" font-size="6.8" text-anchor="middle" fill="#231f20"  textLength="3.14" lengthAdjust="spacingAndGlyphs" stroke="#231f20" stroke-width="0.18">0</text>
<line x1="473.17" y1="119.3" x2="473.17" y2="117.3" stroke="#333" stroke-width="0.8" />
<line x1="473.17" y1="1.0" x2="473.17" y2="3.0" stroke="#333" stroke-width="0.8" />
<line x1="485.04" y1="119.3" x2="485.04" y2="116.3" stroke="#333" stroke-width="0.8" />
<line x1="485.04" y1="1.0" x2="485.04" y2="4.0" stroke="#333" stroke-width="0.8" />
<text x="485.04" y="125.5" font-size="6.8" text-anchor="middle" fill="#231f20"  textLength="3.14" lengthAdjust="spacingAndGlyphs" stroke="#231f20" stroke-width="0.18">2</text>
<line x1="306.6" y1="119.0" x2="309.6" y2="119.0" stroke="#333" stroke-width="0.8" />
<line x1="496.1" y1="119.0" x2="493.1" y2="119.0" stroke="#333" stroke-width="0.8" />
<line x1="306.6" y1="111.65" x2="308.6" y2="111.65" stroke="#333" stroke-width="0.8" />
<line x1="496.1" y1="111.65" x2="494.1" y2="111.65" stroke="#333" stroke-width="0.8" />
<line x1="306.6" y1="104.3" x2="309.6" y2="104.3" stroke="#333" stroke-width="0.8" />
<line x1="496.1" y1="104.3" x2="493.1" y2="104.3" stroke="#333" stroke-width="0.8" />
<text x="304" y="106.8" font-size="6.8" text-anchor="end" fill="#231f20"  textLength="8.16" lengthAdjust="spacingAndGlyphs" stroke="#231f20" stroke-width="0.18">-12</text>
<line x1="306.6" y1="96.95" x2="308.6" y2="96.95" stroke="#333" stroke-width="0.8" />
<line x1="496.1" y1="96.95" x2="494.1" y2="96.95" stroke="#333" stroke-width="0.8" />
<line x1="306.6" y1="89.6" x2="309.6" y2="89.6" stroke="#333" stroke-width="0.8" />
<line x1="496.1" y1="89.6" x2="493.1" y2="89.6" stroke="#333" stroke-width="0.8" />
<text x="304" y="92.1" font-size="6.8" text-anchor="end" fill="#231f20"  textLength="5.02" lengthAdjust="spacingAndGlyphs" stroke="#231f20" stroke-width="0.18">-8</text>
<line x1="306.6" y1="82.25" x2="308.6" y2="82.25" stroke="#333" stroke-width="0.8" />
<line x1="496.1" y1="82.25" x2="494.1" y2="82.25" stroke="#333" stroke-width="0.8" />
<line x1="306.6" y1="74.9" x2="309.6" y2="74.9" stroke="#333" stroke-width="0.8" />
<line x1="496.1" y1="74.9" x2="493.1" y2="74.9" stroke="#333" stroke-width="0.8" />
<text x="304" y="77.4" font-size="6.8" text-anchor="end" fill="#231f20"  textLength="5.02" lengthAdjust="spacingAndGlyphs" stroke="#231f20" stroke-width="0.18">-4</text>
<line x1="306.6" y1="67.55" x2="308.6" y2="67.55" stroke="#333" stroke-width="0.8" />
<line x1="496.1" y1="67.55" x2="494.1" y2="67.55" stroke="#333" stroke-width="0.8" />
<line x1="306.6" y1="60.2" x2="309.6" y2="60.2" stroke="#333" stroke-width="0.8" />
<line x1="496.1" y1="60.2" x2="493.1" y2="60.2" stroke="#333" stroke-width="0.8" />
<text x="304" y="62.7" font-size="6.8" text-anchor="end" fill="#231f20"  textLength="3.14" lengthAdjust="spacingAndGlyphs" stroke="#231f20" stroke-width="0.18">0</text>
<line x1="306.6" y1="52.85" x2="308.6" y2="52.85" stroke="#333" stroke-width="0.8" />
<line x1="496.1" y1="52.85" x2="494.1" y2="52.85" stroke="#333" stroke-width="0.8" />
<line x1="306.6" y1="45.5" x2="309.6" y2="45.5" stroke="#333" stroke-width="0.8" />
<line x1="496.1" y1="45.5" x2="493.1" y2="45.5" stroke="#333" stroke-width="0.8" />
<text x="304" y="48.0" font-size="6.8" text-anchor="end" fill="#231f20"  textLength="3.14" lengthAdjust="spacingAndGlyphs" stroke="#231f20" stroke-width="0.18">4</text>
<line x1="306.6" y1="38.150000000000006" x2="308.6" y2="38.150000000000006" stroke="#333" stroke-width="0.8" />
<line x1="496.1" y1="38.150000000000006" x2="494.1" y2="38.150000000000006" stroke="#333" stroke-width="0.8" />
<line x1="306.6" y1="30.800000000000004" x2="309.6" y2="30.800000000000004" stroke="#333" stroke-width="0.8" />
<line x1="496.1" y1="30.800000000000004" x2="493.1" y2="30.800000000000004" stroke="#333" stroke-width="0.8" />
<text x="304" y="33.300000000000004" font-size="6.8" text-anchor="end" fill="#231f20"  textLength="3.14" lengthAdjust="spacingAndGlyphs" stroke="#231f20" stroke-width="0.18">8</text>
<line x1="306.6" y1="23.450000000000003" x2="308.6" y2="23.450000000000003" stroke="#333" stroke-width="0.8" />
<line x1="496.1" y1="23.450000000000003" x2="494.1" y2="23.450000000000003" stroke="#333" stroke-width="0.8" />
<line x1="306.6" y1="16.10000000000001" x2="309.6" y2="16.10000000000001" stroke="#333" stroke-width="0.8" />
<line x1="496.1" y1="16.10000000000001" x2="493.1" y2="16.10000000000001" stroke="#333" stroke-width="0.8" />
<text x="304" y="18.60000000000001" font-size="6.8" text-anchor="end" fill="#231f20"  textLength="6.28" lengthAdjust="spacingAndGlyphs" stroke="#231f20" stroke-width="0.18">12</text>
<line x1="306.6" y1="8.750000000000007" x2="308.6" y2="8.750000000000007" stroke="#333" stroke-width="0.8" />
<line x1="496.1" y1="8.750000000000007" x2="494.1" y2="8.750000000000007" stroke="#333" stroke-width="0.8" />
<line x1="306.6" y1="1.4000000000000057" x2="309.6" y2="1.4000000000000057" stroke="#333" stroke-width="0.8" />
<line x1="496.1" y1="1.4000000000000057" x2="493.1" y2="1.4000000000000057" stroke="#333" stroke-width="0.8" />
<text x="304" y="7" font-size="6.8" text-anchor="end" fill="#231f20"  textLength="6.28" lengthAdjust="spacingAndGlyphs" stroke="#231f20" stroke-width="0.18">16</text>
<text x="281" y="10.6" font-size="9" text-anchor="start" fill="#231f20"  textLength="9.9" lengthAdjust="spacingAndGlyphs" stroke="#231f20" stroke-width="0.18">(e)</text>
<text transform="translate(290,51) rotate(-90)" font-size="8.4" text-anchor="middle" fill="#231f20" stroke="#231f20" stroke-width="0.3" textLength="58.8" lengthAdjust="spacingAndGlyphs">DOS (eV/states)</text>
<text x="388.3" y="137" font-size="9.5" text-anchor="start" fill="#231f20"  textLength="32.5" lengthAdjust="spacingAndGlyphs" stroke="#231f20" stroke-width="0.3">E-E<tspan font-size="5.5" dy="1.5">F</tspan><tspan dy="-1.5"> (eV)</tspan></text>
<line x1="400.1" y1="19.2" x2="409.3" y2="19.2" stroke="#4b62b8" stroke-width="0.8" />
<text x="411.9" y="20.75" font-size="8.6" text-anchor="start" fill="#231f20"  textLength="37.3" lengthAdjust="spacingAndGlyphs" stroke="#231f20" stroke-width="0.3">Total DOS</text>
<line x1="400.1" y1="25.4" x2="409.3" y2="25.4" stroke="#e0303a" stroke-width="0.8" />
<text x="411.9" y="29.7" font-size="8.6" text-anchor="start" fill="#231f20"  textLength="47.5" lengthAdjust="spacingAndGlyphs" stroke="#231f20" stroke-width="0.3">Ni sublattice</text>
<line x1="332.5" y1="145.5" x2="332.5" y2="233.1" stroke="#c9e3f5" stroke-width="1.25" />
<line x1="348" y1="145.5" x2="348" y2="233.1" stroke="#c9e3f5" stroke-width="1.25" />
<line x1="371.25" y1="145.5" x2="371.25" y2="233.1" stroke="#c9e3f5" stroke-width="1.25" />
<line x1="386.25" y1="145.5" x2="386.25" y2="233.1" stroke="#c9e3f5" stroke-width="1.25" />
<line x1="409.3" y1="145.5" x2="409.3" y2="233.1" stroke="#c9e3f5" stroke-width="1.25" />
<line x1="423.5" y1="145.5" x2="423.5" y2="233.1" stroke="#c9e3f5" stroke-width="1.25" />
<line x1="437.8" y1="145.5" x2="437.8" y2="233.1" stroke="#c9e3f5" stroke-width="1.25" />
<line x1="461.25" y1="145.5" x2="461.25" y2="233.1" stroke="#c9e3f5" stroke-width="1.25" />
<line x1="476.25" y1="145.5" x2="476.25" y2="233.1" stroke="#c9e3f5" stroke-width="1.25" />
<line x1="305.8" y1="183.0" x2="496.2" y2="183.0" stroke="#d2e8f6" stroke-width="1.1" />
<path d="M306.00,175.00 C306.50,174.70 308.00,173.53 309.00,173.20 C310.00,172.87 311.08,172.37 312.00,173.00 C312.92,173.63 313.58,174.33 314.50,177.00 C315.42,179.67 316.25,184.33 317.50,189.00 C318.75,193.67 320.42,200.08 322.00,205.00 C323.58,209.92 325.25,215.28 327.00,218.50 C328.75,221.72 330.67,224.30 332.50,224.30 C334.33,224.30 336.25,222.38 338.00,218.50 C339.75,214.62 341.58,206.42 343.00,201.00 C344.42,195.58 345.42,189.92 346.50,186.00 C347.58,182.08 348.42,179.25 349.50,177.50 C350.58,175.75 351.75,176.00 353.00,175.50 C354.25,175.00 355.50,175.00 357.00,174.50 C358.50,174.00 360.12,172.62 362.00,172.50 C363.88,172.38 366.75,173.12 368.25,173.75 C369.75,174.38 369.96,174.38 371.00,176.25 C372.04,178.12 373.29,182.46 374.50,185.00 C375.71,187.54 376.58,190.58 378.25,191.50 C379.92,192.42 382.71,191.79 384.50,190.50 C386.29,189.21 387.75,184.08 389.00,183.75 C390.25,183.42 390.67,184.46 392.00,188.50 C393.33,192.54 395.33,202.67 397.00,208.00 C398.67,213.33 400.54,217.78 402.00,220.50 C403.46,223.22 404.53,223.55 405.75,224.30 C406.97,225.05 408.04,225.55 409.30,225.00 C410.56,224.45 411.97,223.45 413.30,221.00 C414.63,218.55 416.18,214.30 417.30,210.30 C418.42,206.30 419.23,201.00 420.00,197.00 C420.77,193.00 421.32,188.62 421.90,186.30 C422.48,183.98 422.48,183.45 423.50,183.10 C424.52,182.75 426.58,184.77 428.00,184.20 C429.42,183.63 430.45,180.90 432.00,179.70 C433.55,178.50 435.34,178.62 437.30,177.00 C439.26,175.38 441.84,173.25 443.75,170.00 C445.66,166.75 447.50,160.08 448.75,157.50 C450.00,154.92 450.42,154.08 451.25,154.50 C452.08,154.92 452.71,156.38 453.75,160.00 C454.79,163.62 456.25,171.88 457.50,176.25 C458.75,180.62 459.71,184.79 461.25,186.25 C462.79,187.71 465.12,184.62 466.75,185.00 C468.38,185.38 469.54,187.79 471.00,188.50 C472.46,189.21 474.00,189.62 475.50,189.25 C477.00,188.88 478.75,186.79 480.00,186.25 C481.25,185.71 481.88,185.62 483.00,186.00 C484.12,186.38 485.50,188.83 486.75,188.50 C488.00,188.17 488.96,185.58 490.50,184.00 C492.04,182.42 495.08,179.83 496.00,179.00" fill="none" stroke="#cfb0e0" stroke-width="1.1"/>
<rect x="305.8" y="145.5" width="190.39999999999998" height="87.6" fill="none" stroke="#555" stroke-width="0.75"/>
<line x1="305.8" y1="232.88" x2="307.8" y2="232.88" stroke="#555" stroke-width="0.6" />
<line x1="496.2" y1="232.88" x2="493.7" y2="232.88" stroke="#555" stroke-width="0.6" />
<text x="303.6" y="235.38" font-size="6.8" text-anchor="end" fill="#231f20"  textLength="11.3" lengthAdjust="spacingAndGlyphs" stroke="#231f20" stroke-width="0.18">-200</text>
<line x1="305.8" y1="220.41" x2="307.8" y2="220.41" stroke="#555" stroke-width="0.6" />
<line x1="496.2" y1="220.41" x2="493.7" y2="220.41" stroke="#555" stroke-width="0.6" />
<text x="303.6" y="222.91" font-size="6.8" text-anchor="end" fill="#231f20"  textLength="11.3" lengthAdjust="spacingAndGlyphs" stroke="#231f20" stroke-width="0.18">-150</text>
<line x1="305.8" y1="207.94" x2="307.8" y2="207.94" stroke="#555" stroke-width="0.6" />
<line x1="496.2" y1="207.94" x2="493.7" y2="207.94" stroke="#555" stroke-width="0.6" />
<text x="303.6" y="210.44" font-size="6.8" text-anchor="end" fill="#231f20"  textLength="11.3" lengthAdjust="spacingAndGlyphs" stroke="#231f20" stroke-width="0.18">-100</text>
<line x1="305.8" y1="195.47" x2="307.8" y2="195.47" stroke="#555" stroke-width="0.6" />
<line x1="496.2" y1="195.47" x2="493.7" y2="195.47" stroke="#555" stroke-width="0.6" />
<text x="303.6" y="197.97" font-size="6.8" text-anchor="end" fill="#231f20"  textLength="8.16" lengthAdjust="spacingAndGlyphs" stroke="#231f20" stroke-width="0.18">-50</text>
<line x1="305.8" y1="183.0" x2="307.8" y2="183.0" stroke="#555" stroke-width="0.6" />
<line x1="496.2" y1="183.0" x2="493.7" y2="183.0" stroke="#555" stroke-width="0.6" />
<text x="303.6" y="185.5" font-size="6.8" text-anchor="end" fill="#231f20"  textLength="3.14" lengthAdjust="spacingAndGlyphs" stroke="#231f20" stroke-width="0.18">0</text>
<line x1="305.8" y1="170.53" x2="307.8" y2="170.53" stroke="#555" stroke-width="0.6" />
<line x1="496.2" y1="170.53" x2="493.7" y2="170.53" stroke="#555" stroke-width="0.6" />
<text x="303.6" y="173.03" font-size="6.8" text-anchor="end" fill="#231f20"  textLength="6.28" lengthAdjust="spacingAndGlyphs" stroke="#231f20" stroke-width="0.18">50</text>
<line x1="305.8" y1="158.06" x2="307.8" y2="158.06" stroke="#555" stroke-width="0.6" />
<line x1="496.2" y1="158.06" x2="493.7" y2="158.06" stroke="#555" stroke-width="0.6" />
<text x="303.6" y="160.56" font-size="6.8" text-anchor="end" fill="#231f20"  textLength="9.42" lengthAdjust="spacingAndGlyphs" stroke="#231f20" stroke-width="0.18">100</text>
<line x1="305.8" y1="145.59" x2="307.8" y2="145.59" stroke="#555" stroke-width="0.6" />
<line x1="496.2" y1="145.59" x2="493.7" y2="145.59" stroke="#555" stroke-width="0.6" />
<text x="303.6" y="148.09" font-size="6.8" text-anchor="end" fill="#231f20"  textLength="9.42" lengthAdjust="spacingAndGlyphs" stroke="#231f20" stroke-width="0.18">150</text>
<text x="306" y="240.2" font-size="6" text-anchor="middle" fill="#231f20"  stroke="#231f20" stroke-width="0.18">S</text>
<text x="332.5" y="240.2" font-size="6" text-anchor="middle" fill="#231f20"  stroke="#231f20" stroke-width="0.18">Γ</text>
<text x="348" y="240.2" font-size="6" text-anchor="middle" fill="#231f20"  stroke="#231f20" stroke-width="0.18">X</text>
<text x="371.25" y="240.2" font-size="6" text-anchor="middle" fill="#231f20"  stroke="#231f20" stroke-width="0.18">S</text>
<text x="386.25" y="240.2" font-size="6" text-anchor="middle" fill="#231f20"  stroke="#231f20" stroke-width="0.18">Y</text>
<text x="409.3" y="240.2" font-size="6" text-anchor="middle" fill="#231f20"  stroke="#231f20" stroke-width="0.18">Γ</text>
<text x="423.5" y="240.2" font-size="6" text-anchor="middle" fill="#231f20"  stroke="#231f20" stroke-width="0.18">Z</text>
<text x="437.8" y="240.2" font-size="6" text-anchor="middle" fill="#231f20"  stroke="#231f20" stroke-width="0.18">U</text>
<text x="461.25" y="240.2" font-size="6" text-anchor="middle" fill="#231f20"  stroke="#231f20" stroke-width="0.18">R</text>
<text x="476.25" y="240.2" font-size="6" text-anchor="middle" fill="#231f20"  stroke="#231f20" stroke-width="0.18">T</text>
<text x="497" y="240.2" font-size="6" text-anchor="middle" fill="#231f20"  stroke="#231f20" stroke-width="0.18">Z</text>
<text x="280.3" y="150.6" font-size="9.5" text-anchor="start" fill="#231f20"  textLength="9.9" lengthAdjust="spacingAndGlyphs" stroke="#231f20" stroke-width="0.18">(f)</text>
<text transform="translate(287.5,191.9) rotate(-90)" font-size="8.5" text-anchor="middle" fill="#231f20" stroke="#231f20" stroke-width="0.25" textLength="36.9" lengthAdjust="spacingAndGlyphs"><tspan font-style="italic">J</tspan> (<tspan font-weight="bold">q</tspan>) (meV)</text></svg></body></html>
